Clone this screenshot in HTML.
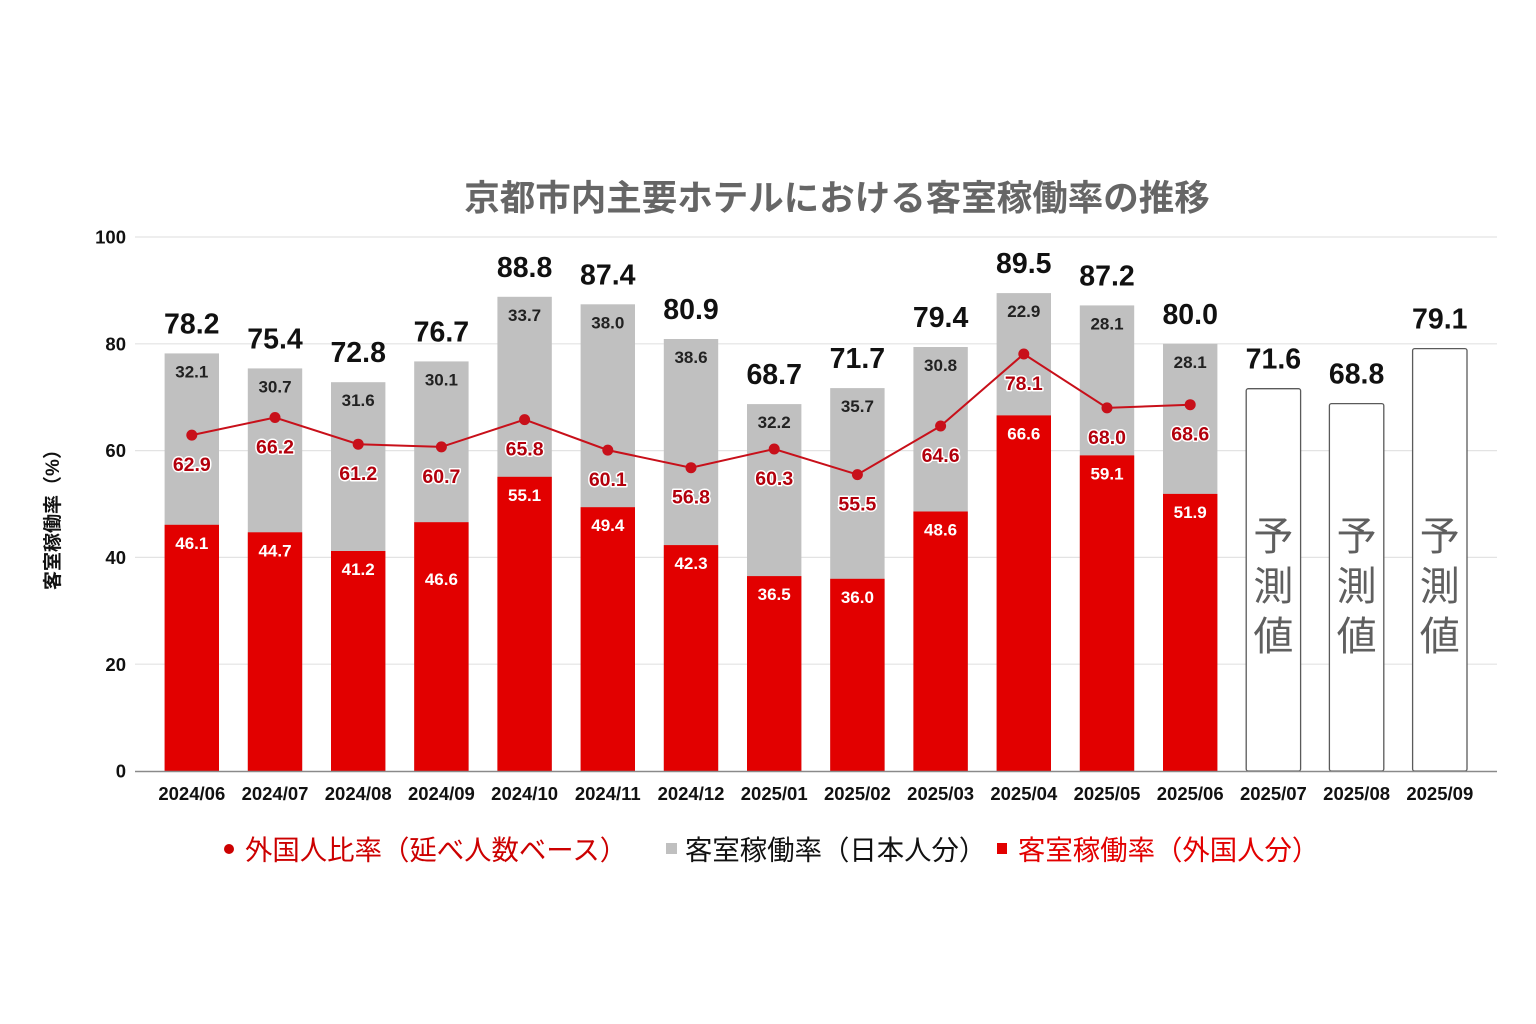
<!DOCTYPE html>
<html><head><meta charset="utf-8"><style>
html,body{margin:0;padding:0;background:#fff;}
svg{display:block;}
.num{font-family:"Liberation Sans",Arial,sans-serif;font-weight:bold;}
.jp{font-family:"Liberation Sans","Noto Sans CJK JP",sans-serif;}
</style></head><body>
<svg width="1536" height="1024" viewBox="0 0 1536 1024" xmlns="http://www.w3.org/2000/svg">
<rect width="1536" height="1024" fill="#fff"/>
<!-- title -->
<text x="837" y="210" text-anchor="middle" class="jp" font-size="35.5" font-weight="bold" fill="#666">京都市内主要ホテルにおける客室稼働率の推移</text>
<!-- gridlines -->
<g stroke="#e3e3e3" stroke-width="1.2">
<line x1="135" y1="237" x2="1497" y2="237"/>
<line x1="135" y1="343.8" x2="1497" y2="343.8"/>
<line x1="135" y1="450.6" x2="1497" y2="450.6"/>
<line x1="135" y1="557.4" x2="1497" y2="557.4"/>
<line x1="135" y1="664.2" x2="1497" y2="664.2"/>
</g>
<!-- y tick labels -->
<g class="num" font-size="18.5" fill="#111" text-anchor="end">
<text x="126" y="243.5">100</text>
<text x="126" y="350.5">80</text>
<text x="126" y="457">60</text>
<text x="126" y="564">40</text>
<text x="126" y="671">20</text>
<text x="126" y="777.5">0</text>
</g>
<!-- y axis title -->
<text transform="translate(59,515) rotate(-90)" text-anchor="middle" class="jp" font-size="19" font-weight="bold" fill="#111">客室稼働率（%）</text>

<!-- grey bars -->
<g fill="#c0c0c0">
<rect x="164.6" y="353.4" width="54.4" height="417.6"/>
<rect x="247.8" y="368.4" width="54.4" height="402.6"/>
<rect x="331.0" y="382.2" width="54.4" height="388.8"/>
<rect x="414.2" y="361.4" width="54.4" height="409.6"/>
<rect x="497.4" y="296.8" width="54.4" height="474.2"/>
<rect x="580.6" y="304.3" width="54.4" height="466.7"/>
<rect x="663.8" y="339.0" width="54.4" height="432.0"/>
<rect x="747.0" y="404.1" width="54.4" height="366.9"/>
<rect x="830.2" y="388.1" width="54.4" height="382.9"/>
<rect x="913.4" y="347.0" width="54.4" height="424.0"/>
<rect x="996.6" y="293.1" width="54.4" height="477.9"/>
<rect x="1079.8" y="305.4" width="54.4" height="465.6"/>
<rect x="1163.0" y="343.8" width="54.4" height="427.2"/>
</g>
<!-- red bars -->
<g fill="#e20000">
<rect x="164.6" y="524.8" width="54.4" height="246.2"/>
<rect x="247.8" y="532.3" width="54.4" height="238.7"/>
<rect x="331.0" y="551.0" width="54.4" height="220.0"/>
<rect x="414.2" y="522.2" width="54.4" height="248.8"/>
<rect x="497.4" y="476.8" width="54.4" height="294.2"/>
<rect x="580.6" y="507.2" width="54.4" height="263.8"/>
<rect x="663.8" y="545.1" width="54.4" height="225.9"/>
<rect x="747.0" y="576.1" width="54.4" height="194.9"/>
<rect x="830.2" y="578.8" width="54.4" height="192.2"/>
<rect x="913.4" y="511.5" width="54.4" height="259.5"/>
<rect x="996.6" y="415.4" width="54.4" height="355.6"/>
<rect x="1079.8" y="455.4" width="54.4" height="315.6"/>
<rect x="1163.0" y="493.9" width="54.4" height="277.1"/>
</g>
<!-- forecast bars -->
<g fill="#fff" stroke="#5a5a5a" stroke-width="1.3">
<rect x="1246.2" y="388.7" width="54.4" height="382.3" rx="2"/>
<rect x="1329.4" y="403.6" width="54.4" height="367.4" rx="2"/>
<rect x="1412.6" y="348.6" width="54.4" height="422.4" rx="2"/>
</g>
<g class="jp" font-size="40" fill="#5f5f5f" text-anchor="middle">
<text x="1273.4" y="550">予</text><text x="1273.4" y="600">測</text><text x="1273.4" y="650">値</text>
<text x="1356.6" y="550">予</text><text x="1356.6" y="600">測</text><text x="1356.6" y="650">値</text>
<text x="1439.8" y="550">予</text><text x="1439.8" y="600">測</text><text x="1439.8" y="650">値</text>
</g>
<!-- axis line -->
<line x1="135" y1="771.5" x2="1497" y2="771.5" stroke="#8a8a8a" stroke-width="1.5"/>

<!-- total labels -->
<g class="num" font-size="28.5" fill="#111" text-anchor="middle">
<text x="191.8" y="333.4">78.2</text>
<text x="275.0" y="348.4">75.4</text>
<text x="358.2" y="362.2">72.8</text>
<text x="441.4" y="341.4">76.7</text>
<text x="524.6" y="276.8">88.8</text>
<text x="607.8" y="284.3">87.4</text>
<text x="691.0" y="319.0">80.9</text>
<text x="774.2" y="384.1">68.7</text>
<text x="857.4" y="368.1">71.7</text>
<text x="940.6" y="327.0">79.4</text>
<text x="1023.8" y="273.1">89.5</text>
<text x="1107.0" y="285.4">87.2</text>
<text x="1190.2" y="323.8">80.0</text>
<text x="1273.4" y="368.7">71.6</text>
<text x="1356.6" y="383.6">68.8</text>
<text x="1439.8" y="328.6">79.1</text>
</g>
<!-- grey labels -->
<g class="num" font-size="17" fill="#222" text-anchor="middle">
<text x="191.8" y="377.4">32.1</text>
<text x="275.0" y="392.4">30.7</text>
<text x="358.2" y="406.2">31.6</text>
<text x="441.4" y="385.4">30.1</text>
<text x="524.6" y="320.8">33.7</text>
<text x="607.8" y="328.3">38.0</text>
<text x="691.0" y="363.0">38.6</text>
<text x="774.2" y="428.1">32.2</text>
<text x="857.4" y="412.1">35.7</text>
<text x="940.6" y="371.0">30.8</text>
<text x="1023.8" y="317.1">22.9</text>
<text x="1107.0" y="329.4">28.1</text>
<text x="1190.2" y="367.8">28.1</text>
</g>
<!-- red labels -->
<g class="num" font-size="17" fill="#fff" text-anchor="middle">
<text x="191.8" y="548.8">46.1</text>
<text x="275.0" y="556.3">44.7</text>
<text x="358.2" y="575.0">41.2</text>
<text x="441.4" y="585.0">46.6</text>
<text x="524.6" y="500.8">55.1</text>
<text x="607.8" y="531.2">49.4</text>
<text x="691.0" y="569.1">42.3</text>
<text x="774.2" y="600.1">36.5</text>
<text x="857.4" y="602.8">36.0</text>
<text x="940.6" y="535.5">48.6</text>
<text x="1023.8" y="439.4">66.6</text>
<text x="1107.0" y="479.4">59.1</text>
<text x="1190.2" y="517.9">51.9</text>
</g>
<!-- line -->
<polyline fill="none" stroke="#c8101a" stroke-width="2" points="191.8,435.1 275.0,417.5 358.2,444.2 441.4,446.9 524.6,419.6 607.8,450.1 691.0,467.7 774.2,449.0 857.4,474.6 940.6,426.0 1023.8,354.0 1107.0,407.9 1190.2,404.7"/>
<g fill="#c8101a">
<circle cx="191.8" cy="435.1" r="5.5"/>
<circle cx="275.0" cy="417.5" r="5.5"/>
<circle cx="358.2" cy="444.2" r="5.5"/>
<circle cx="441.4" cy="446.9" r="5.5"/>
<circle cx="524.6" cy="419.6" r="5.5"/>
<circle cx="607.8" cy="450.1" r="5.5"/>
<circle cx="691.0" cy="467.7" r="5.5"/>
<circle cx="774.2" cy="449.0" r="5.5"/>
<circle cx="857.4" cy="474.6" r="5.5"/>
<circle cx="940.6" cy="426.0" r="5.5"/>
<circle cx="1023.8" cy="354.0" r="5.5"/>
<circle cx="1107.0" cy="407.9" r="5.5"/>
<circle cx="1190.2" cy="404.7" r="5.5"/>
</g>
<!-- line labels -->
<g class="num" font-size="19.5" fill="#b3000c" stroke="#fff" stroke-width="3" stroke-linejoin="round" paint-order="stroke" text-anchor="middle">
<text x="191.8" y="471.1">62.9</text>
<text x="275.0" y="453.5">66.2</text>
<text x="358.2" y="480.2">61.2</text>
<text x="441.4" y="482.9">60.7</text>
<text x="524.6" y="455.6">65.8</text>
<text x="607.8" y="486.1">60.1</text>
<text x="691.0" y="503.7">56.8</text>
<text x="774.2" y="485.0">60.3</text>
<text x="857.4" y="510.6">55.5</text>
<text x="940.6" y="462.0">64.6</text>
<text x="1023.8" y="390.0">78.1</text>
<text x="1107.0" y="443.9">68.0</text>
<text x="1190.2" y="440.7">68.6</text>
</g>
<!-- x labels -->
<g class="num" font-size="18.5" fill="#111" text-anchor="middle">
<text x="191.8" y="800">2024/06</text>
<text x="275.0" y="800">2024/07</text>
<text x="358.2" y="800">2024/08</text>
<text x="441.4" y="800">2024/09</text>
<text x="524.6" y="800">2024/10</text>
<text x="607.8" y="800">2024/11</text>
<text x="691.0" y="800">2024/12</text>
<text x="774.2" y="800">2025/01</text>
<text x="857.4" y="800">2025/02</text>
<text x="940.6" y="800">2025/03</text>
<text x="1023.8" y="800">2025/04</text>
<text x="1107.0" y="800">2025/05</text>
<text x="1190.2" y="800">2025/06</text>
<text x="1273.4" y="800">2025/07</text>
<text x="1356.6" y="800">2025/08</text>
<text x="1439.8" y="800">2025/09</text>
</g>
<!-- legend -->
<circle cx="229" cy="849" r="5" fill="#cc0000"/>
<text x="245" y="859.5" class="jp" font-size="27.4" fill="#cc0000">外国人比率（延べ人数ベース）</text>
<rect x="666" y="843" width="11" height="11" fill="#c0c0c0"/>
<text x="685" y="859.5" class="jp" font-size="27.4" fill="#111">客室稼働率（日本人分）</text>
<rect x="997" y="843" width="10" height="11" fill="#e20000"/>
<text x="1018" y="859.5" class="jp" font-size="27.4" fill="#e20000">客室稼働率（外国人分）</text>
</svg>
</body></html>
